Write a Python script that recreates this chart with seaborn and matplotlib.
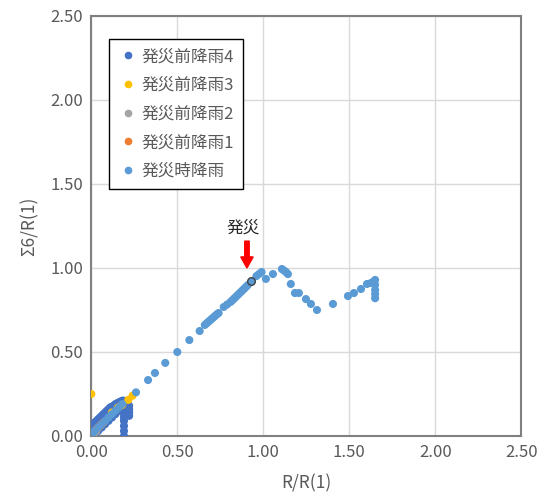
import matplotlib
matplotlib.use("Agg")
import matplotlib.pyplot as plt
import seaborn as sns
import pandas as pd

# ---- data ----
pre4_x = [0.00, 0.00, 0.00, 0.00, 0.01, 0.02, 0.03, 0.04, 0.05, 0.06, 0.07, 0.08, 0.09, 0.10,
          0.11, 0.12, 0.13, 0.14, 0.15, 0.16, 0.17, 0.18, 0.19, 0.19, 0.19, 0.19, 0.19, 0.19,
          0.19, 0.19, 0.19, 0.19, 0.22, 0.22, 0.22, 0.22, 0.21,
          0.02, 0.04, 0.06, 0.08, 0.10, 0.12, 0.14, 0.16, 0.18, 0.20]
pre4_y = [0.01, 0.03, 0.05, 0.07, 0.07, 0.08, 0.09, 0.10, 0.11, 0.12, 0.13, 0.14, 0.15, 0.16,
          0.17, 0.175, 0.18, 0.19, 0.195, 0.20, 0.205, 0.21, 0.21, 0.19, 0.17, 0.15, 0.13, 0.11,
          0.09, 0.06, 0.03, 0.00, 0.18, 0.16, 0.14, 0.12, 0.19,
          0.01, 0.03, 0.05, 0.07, 0.09, 0.11, 0.13, 0.15, 0.17, 0.18]
pre3_x = [0.00, 0.00, 0.12, 0.155, 0.18, 0.215, 0.24]
pre3_y = [0.25, 0.00, 0.14, 0.17, 0.185, 0.215, 0.24]
pre2_x = [0.01, 0.02, 0.03]
pre2_y = [0.01, 0.02, 0.03]
pre1_x = [0.01, 0.03, 0.04, 0.05, 0.06, 0.07]
pre1_y = [0.02, 0.04, 0.05, 0.06, 0.07, 0.08]
post_x = [0.00, 0.01, 0.02, 0.04, 0.06, 0.08, 0.10, 0.12, 0.14, 0.16, 0.18, 0.26,
          0.33, 0.37, 0.43, 0.50, 0.57, 0.63, 0.66, 0.67, 0.68, 0.69, 0.70, 0.71, 0.72,
          0.73, 0.74, 0.77, 0.79, 0.81, 0.82, 0.83, 0.84, 0.85, 0.86, 0.87, 0.88, 0.89,
          0.90, 0.91, 0.96, 0.975, 0.99, 1.015, 1.056, 1.108, 1.12, 1.132, 1.143, 1.16,
          1.184, 1.207, 1.248, 1.277, 1.312, 1.405, 1.492, 1.527, 1.568, 1.603, 1.626,
          1.64, 1.65, 1.65, 1.65, 1.65, 1.65]
post_y = [0.00, 0.02, 0.03, 0.05, 0.07, 0.09, 0.11, 0.13, 0.15, 0.17, 0.19, 0.26,
          0.333, 0.375, 0.435, 0.50, 0.571, 0.625, 0.661, 0.670, 0.679, 0.688, 0.697, 0.706, 0.715,
          0.724, 0.732, 0.768, 0.783, 0.798, 0.808, 0.818, 0.828, 0.838, 0.848, 0.858, 0.868, 0.878,
          0.888, 0.898, 0.952, 0.964, 0.976, 0.935, 0.964, 0.994, 0.985, 0.976, 0.964, 0.905,
          0.851, 0.851, 0.815, 0.786, 0.750, 0.786, 0.833, 0.851, 0.875, 0.905, 0.911,
          0.918, 0.929, 0.90, 0.87, 0.845, 0.82]
event_x = [0.928]
event_y = [0.923]

series_names = ["発災前降雨4", "発災前降雨3", "発災前降雨2", "発災前降雨1", "発災時降雨"]
series_colors = ["#4472C4", "#FFC000", "#A5A5A5", "#ED7D31", "#5B9BD5"]
x_ticks = [0.0, 0.5, 1.0, 1.5, 2.0, 2.5]
y_ticks = [0.0, 0.5, 1.0, 1.5, 2.0, 2.5]
x_title = "R/R(1)"
y_title = "Σ6/R(1)"
note_text = "発災"

frames = []
for name, xs, ys in zip(series_names,
                        [pre4_x, pre3_x, pre2_x, pre1_x, post_x],
                        [pre4_y, pre3_y, pre2_y, pre1_y, post_y]):
    frames.append(pd.DataFrame({"x": xs, "y": ys, "series": name}))
df = pd.concat(frames, ignore_index=True)

sns.set_style("white")
plt.rcParams['font.family'] = ['Noto Sans CJK JP', 'DejaVu Sans']

fig = plt.figure(figsize=(5.38, 5.04), dpi=100)
ax = fig.add_axes([91.3 / 538, 1 - 436 / 504, (521.3 - 91.3) / 538, (436 - 16) / 504])

sns.scatterplot(data=df, x="x", y="y", hue="series", hue_order=series_names,
                palette=dict(zip(series_names, series_colors)), s=34,
                edgecolor="none", linewidth=0, ax=ax, legend=False, zorder=3)
# event point (outlined)
sns.scatterplot(x=event_x, y=event_y, s=30, color="#5B9BD5", edgecolor="#404040",
                linewidth=1.0, ax=ax, legend=False, zorder=4)

ax.set_xlim(0, 2.5)
ax.set_ylim(0, 2.5)
ax.set_xticks(x_ticks)
ax.set_yticks(y_ticks)
ax.set_xticklabels([f"{v:.2f}" for v in x_ticks])
ax.set_yticklabels([f"{v:.2f}" for v in y_ticks])
ax.tick_params(axis="both", length=0, labelsize=12, labelcolor="#595959", pad=6)
ax.grid(True, color="#D9D9D9", linewidth=1.0)
ax.set_axisbelow(True)
for sp in ax.spines.values():
    sp.set_visible(True)
    sp.set_color("#808080")
    sp.set_linewidth(1.5)

ax.set_xlabel(x_title, fontsize=12.5, color="#595959", labelpad=9)
ax.set_ylabel(y_title, fontsize=12.5, color="#595959", labelpad=8)

# annotation
ax.text(0.88, 1.235, note_text, ha="center", va="center", fontsize=12, color="#262626")
ax.arrow(0.905, 1.16, 0, -0.16, width=0.026, head_width=0.072, head_length=0.066,
         length_includes_head=True, color="#FF0000", zorder=5)

# legend
handles = [plt.Line2D([], [], marker="o", linestyle="", markersize=4.5,
                      markerfacecolor=c, markeredgecolor=c) for c in series_colors]
leg = ax.legend(handles, series_names, loc="upper left", bbox_to_anchor=(0.04, 0.945),
                frameon=True, fancybox=False, edgecolor="#000000", framealpha=1,
                fontsize=12, labelspacing=0.7, handletextpad=0.2, handlelength=1.2,
                borderpad=0.55, borderaxespad=0)
leg.get_frame().set_linewidth(1.0)
for t in leg.get_texts():
    t.set_color("#595959")

fig.savefig("out.png", dpi=100)
